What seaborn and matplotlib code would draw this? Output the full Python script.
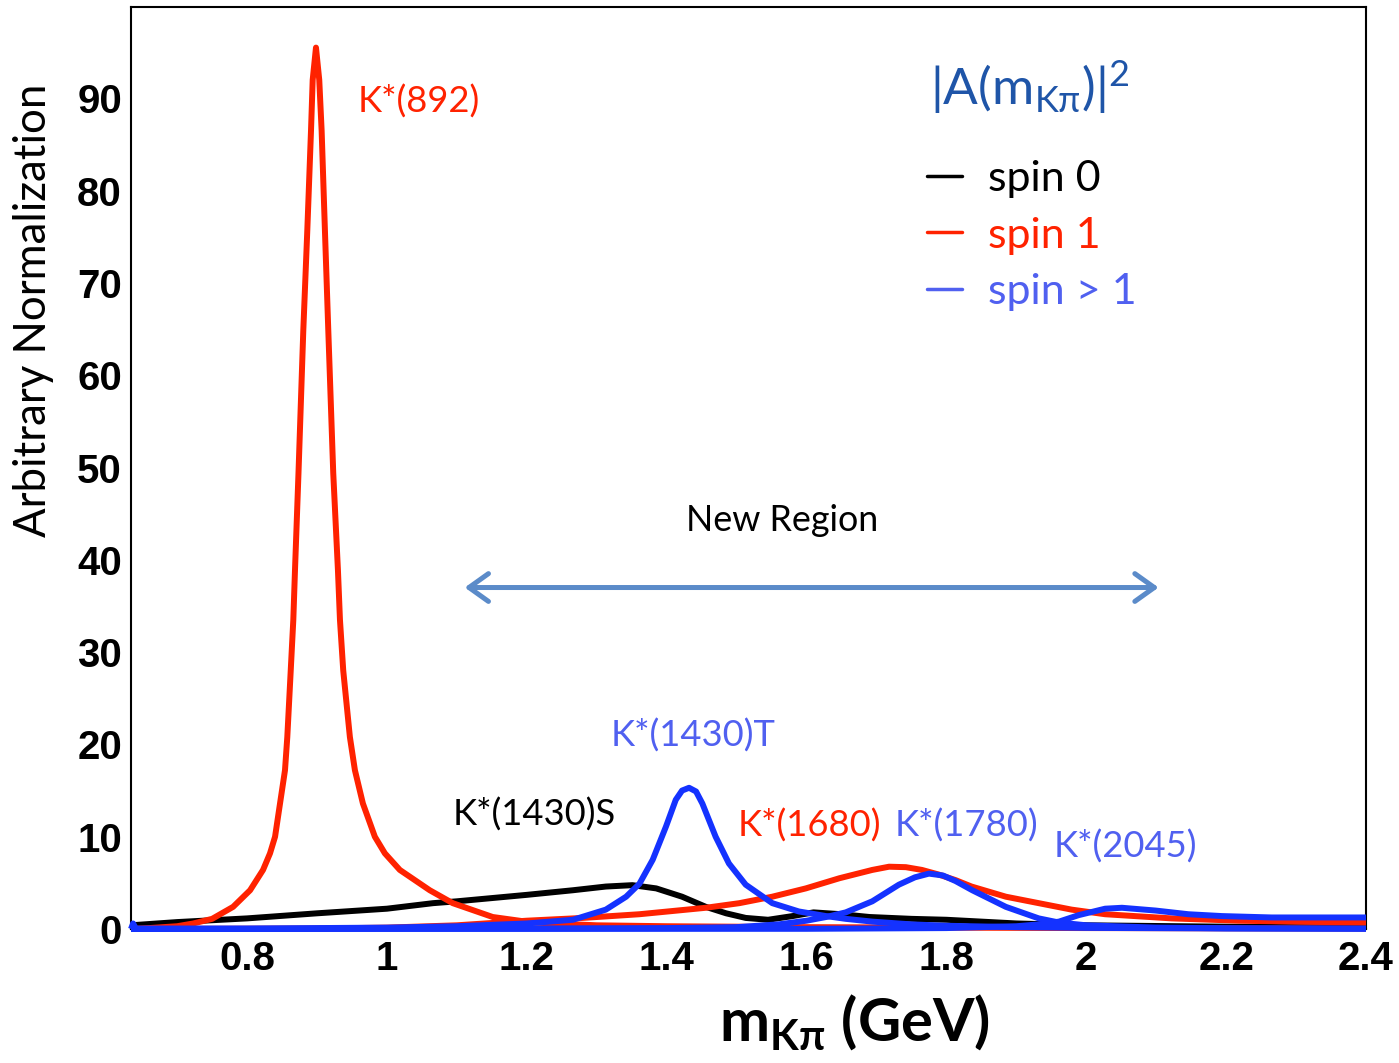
import matplotlib
matplotlib.use("Agg")
import matplotlib.pyplot as plt
import seaborn as sns
from matplotlib.lines import Line2D
from matplotlib.ticker import MultipleLocator, FuncFormatter

# ---------------- data: |A(m_Kpi)|^2 line shapes ----------------
# spin 0 (LASS-like K*(1430) S-wave)
s0_x = [0.634, 0.70, 0.80, 0.90, 1.00, 1.066, 1.10, 1.20, 1.266, 1.313, 1.351, 1.385,
        1.422, 1.456, 1.485, 1.513, 1.545, 1.58, 1.61, 1.65, 1.69, 1.75, 1.80, 1.85,
        1.90, 2.00, 2.20, 2.40]
s0_y = [0.4, 0.75, 1.15, 1.7, 2.2, 2.8, 3.0, 3.7, 4.2, 4.6, 4.75, 4.4,
        3.5, 2.4, 1.7, 1.2, 1.0, 1.4, 1.8, 1.6, 1.3, 1.1, 1.0, 0.8,
        0.6, 0.4, 0.25, 0.15]

# spin 1: K*(892)
k892_x = [0.634, 0.66, 0.70, 0.723, 0.75, 0.78, 0.8043, 0.8228, 0.8328, 0.840, 0.8471,
          0.8542, 0.8575, 0.8624, 0.8661, 0.8685, 0.8735, 0.8804, 0.8861, 0.8914,
          0.8938, 0.8985, 0.9032, 0.9066, 0.9113, 0.9161, 0.9232, 0.9299, 0.9328,
          0.9375, 0.947, 0.9542, 0.9656, 0.9827, 0.997, 1.0184, 1.0612, 1.0941,
          1.1512, 1.2083, 1.30, 1.40, 1.60, 1.80, 2.00, 2.40]
k892_y = [0.0, 0.1, 0.3, 0.6, 1.1, 2.4, 4.2, 6.4, 8.2, 10.0, 13.6,
          17.2, 20.8, 28.0, 33.5, 38.9, 49.4, 64.9, 75.7, 86.5,
          92.0, 95.5, 92.0, 86.5, 75.7, 64.9, 49.4, 38.9, 33.5,
          28.0, 20.8, 17.2, 13.6, 10.0, 8.2, 6.4, 4.2, 2.8,
          1.3, 0.7, 0.4, 0.3, 0.2, 0.15, 0.1, 0.05]

# spin 1: K*(1680)
k1680_x = [0.634, 0.90, 1.00, 1.10, 1.20, 1.28, 1.361, 1.456, 1.504, 1.551, 1.599,
           1.647, 1.694, 1.718, 1.742, 1.765, 1.789, 1.813, 1.836, 1.885, 1.932,
           1.979, 2.027, 2.122, 2.218, 2.30, 2.40]
k1680_y = [0.0, 0.05, 0.15, 0.4, 0.9, 1.2, 1.6, 2.3, 2.8, 3.5, 4.4,
           5.5, 6.4, 6.75, 6.7, 6.4, 5.9, 5.3, 4.6, 3.5, 2.8,
           2.1, 1.6, 1.15, 0.9, 0.8, 0.7]

# spin > 1: K*2(1430)
k1430_x = [0.634, 0.637, 0.641, 0.80, 1.00, 1.10, 1.20, 1.266, 1.313, 1.342, 1.361,
           1.380, 1.399, 1.413, 1.422, 1.432, 1.442, 1.451, 1.470, 1.489, 1.513,
           1.551, 1.589, 1.628, 1.656, 1.694, 1.75, 1.80, 1.90, 2.00, 2.20, 2.40]
k1430_y = [0.0, 0.6, 0.05, 0.05, 0.15, 0.3, 0.6, 1.0, 2.1, 3.5, 4.9,
           7.5, 11.1, 14.0, 15.0, 15.3, 14.9, 13.6, 10.0, 7.1, 4.8,
           2.8, 1.9, 1.4, 1.1, 0.8, 0.5, 0.35, 0.2, 0.12, 0.06, 0.03]

# spin > 1: K*3(1780)
k1780_x = [0.634, 1.20, 1.40, 1.50, 1.56, 1.60, 1.628, 1.656, 1.694, 1.732, 1.755,
           1.775, 1.795, 1.813, 1.837, 1.885, 1.932, 1.961, 2.00, 2.10, 2.20, 2.40]
k1780_y = [0.0, 0.05, 0.1, 0.2, 0.5, 0.9, 1.3, 1.8, 3.0, 4.8, 5.6,
           6.0, 5.8, 5.2, 4.2, 2.4, 1.15, 0.7, 0.4, 0.15, 0.08, 0.03]

# spin > 1: K*4(2045)
k2045_x = [0.634, 1.60, 1.80, 1.90, 1.932, 1.961, 1.989, 2.027, 2.051, 2.099, 2.146,
           2.194, 2.265, 2.40]
k2045_y = [0.0, 0.02, 0.1, 0.3, 0.5, 0.8, 1.5, 2.2, 2.3, 2.0, 1.6,
           1.4, 1.25, 1.25]

legend_labels = ["spin 0", "spin 1", "spin > 1"]
x_major = 0.2
y_major = 10

# ---------------- style ----------------
sns.set_style("white")
plt.rcParams["font.family"] = ["Liberation Sans", "DejaVu Sans"]
plt.rcParams["font.weight"] = "bold"
plt.rcParams["text.color"] = "black"
plt.rcParams["axes.labelcolor"] = "black"
plt.rcParams["xtick.color"] = "black"
plt.rcParams["ytick.color"] = "black"
plt.rcParams["mathtext.fontset"] = "custom"
plt.rcParams["mathtext.rm"] = "Lato:normal"
plt.rcParams["mathtext.it"] = "Lato:italic:normal"
plt.rcParams["mathtext.bf"] = "Lato:bold"

TXT = ["Lato", "Noto Sans", "DejaVu Sans"]
RED = "#FF2200"
BLUE = "#1432FF"
LBLUE = "#5060F0"
TBLUE = "#1F55A8"
ARROW = "#5B8BC9"

fig = plt.figure(figsize=(13.99, 10.63), dpi=100)
ax = fig.add_axes([131 / 1399, 134 / 1063, 1235 / 1399, 922 / 1063])

curves = [
    (s0_x, s0_y, "black"),
    (k892_x, k892_y, RED),
    (k1680_x, k1680_y, RED),
    (k1430_x, k1430_y, BLUE),
    (k1780_x, k1780_y, BLUE),
    (k2045_x, k2045_y, BLUE),
]
for xs, ys, col in curves:
    sns.lineplot(x=xs, y=ys, ax=ax, color=col, linewidth=4.3, sort=False,
                 estimator=None, legend=False)
for ln in ax.lines:
    ln.set_clip_on(False)
    ln.set_zorder(3)
    ln.set_solid_capstyle("butt")

ax.set_xlim(0.634, 2.40)
ax.set_ylim(0, 99.9)

ax.xaxis.set_major_locator(MultipleLocator(x_major))
ax.xaxis.set_minor_locator(MultipleLocator(0.05))
ax.yaxis.set_major_locator(MultipleLocator(y_major))
ax.yaxis.set_minor_locator(MultipleLocator(2))
ax.xaxis.set_major_formatter(FuncFormatter(lambda v, p: f"{v:g}"))

ax.tick_params(which="both", direction="in", top=False, right=False,
               color="black", labelcolor="black", labelsize=29)
ax.tick_params(axis="y", which="major", length=27, width=1.4, pad=6.5)
ax.tick_params(axis="y", which="minor", length=14, width=1.4)
ax.tick_params(axis="x", which="major", length=19, width=1.4, pad=8)
ax.tick_params(axis="x", which="minor", length=9.5, width=1.4)

for sp in ax.spines.values():
    sp.set_visible(True)
    sp.set_color("black")
    sp.set_linewidth(1.5)

ax.set_ylabel("Arbitrary Normalization", family=TXT, weight="normal",
              size=31.5, color="black")
ax.yaxis.set_label_coords(-0.062, 0.671)
ax.set_xlabel(r"$\mathbf{m_{Kπ}}$ (GeV)", family=TXT, weight="bold", size=43,
              color="black")
ax.xaxis.set_label_coords(0.586, -0.068)

# resonance labels
ann = dict(family=TXT, weight="normal", size=26.2, ha="left", va="center")
ax.text(0.9585, 89.6, "K*(892)", color=RED, **ann)
ax.text(1.0941, 12.35, "K*(1430)S", color="black", **ann)
ax.text(1.3196, 21.0, "K*(1430)T", color=LBLUE, **ann)
ax.text(1.5009, 11.16, "K*(1680)", color=RED, **ann)
ax.text(1.7265, 11.16, "K*(1780)", color=LBLUE, **ann)
ax.text(1.9535, 8.88, "K*(2045)", color=LBLUE, **ann)
ax.text(1.4281, 44.3, "New Region", color="black",
        **{**ann, "size": 25.8})

ax.annotate("", xy=(2.1034, 37.0), xytext=(1.1112, 37.0),
            arrowprops=dict(arrowstyle="<->,head_length=1.4,head_width=1.0",
                            color=ARROW, lw=3.6, shrinkA=0, shrinkB=0,
                            mutation_scale=10, capstyle="round",
                            joinstyle="round"))

# legend
fig.text(930 / 1399, 1 - 88 / 1063, r"$|\mathrm{A(m_{Kπ})}|^2$", color=TBLUE,
         family=TXT, weight="normal", size=37, ha="left", va="center")
handles = [Line2D([], [], color=c, lw=2.5) for c in ("black", RED, LBLUE)]
ax.legend(handles, legend_labels, loc="upper left",
          bbox_to_anchor=(927 / 1399, 1 - 160 / 1063),
          bbox_transform=fig.transFigure, frameon=False, handlelength=0.81,
          handletextpad=0.6, labelspacing=0.43, borderpad=0, borderaxespad=0,
          prop={"family": TXT, "size": 31, "weight": "normal"},
          labelcolor=["black", RED, LBLUE])

fig.savefig("out.png", dpi=100, facecolor="white")
